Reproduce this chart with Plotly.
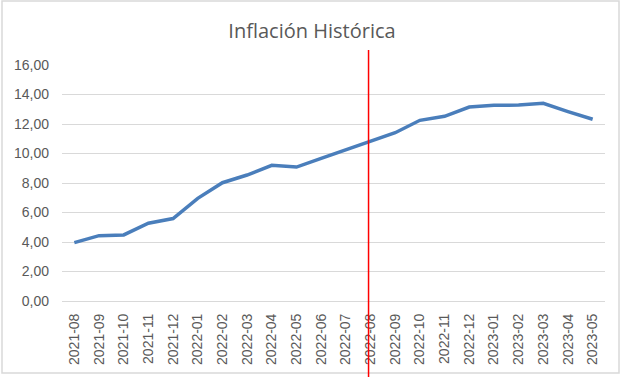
import plotly.graph_objects as go

months = ["2021-08", "2021-09", "2021-10", "2021-11", "2021-12", "2022-01", "2022-02",
          "2022-03", "2022-04", "2022-05", "2022-06", "2022-07", "2022-08", "2022-09",
          "2022-10", "2022-11", "2022-12", "2023-01", "2023-02", "2023-03", "2023-04",
          "2023-05"]
inflation = [3.96, 4.43, 4.48, 5.27, 5.59, 6.96, 8.02, 8.54, 9.20, 9.08, 9.67, 10.27,
             10.82, 11.41, 12.25, 12.52, 13.15, 13.27, 13.28, 13.40, 12.84, 12.32]
y_ticks = [0, 2, 4, 6, 8, 10, 12, 14, 16]
marker_month_index = 11.92

fig = go.Figure()
fig.add_trace(go.Scatter(x=list(range(len(months))), y=inflation, mode="lines",
                         line=dict(color="#4a7ebb", width=3.5), hoverinfo="x+y"))

fig.update_layout(
    width=625, height=377,
    margin=dict(l=62, r=20, t=65, b=76, autoexpand=False),
    paper_bgcolor="white", plot_bgcolor="white",
    separators=",.",
    showlegend=False,
    title=dict(text="Inflación Histórica", x=312 / 625, xref="container", xanchor="center",
               y=1 - 31 / 377, yref="container", yanchor="middle",
               font=dict(family="Open Sans", size=20, color="#595959")),
    font=dict(family="Liberation Sans, Arial", size=14, color="#595959"),
)
fig.update_xaxes(
    tickmode="array", tickvals=list(range(len(months))), ticktext=months,
    range=[-0.5, len(months) - 0.5], tickangle=-90, automargin=False,
    showgrid=False, showline=True, linecolor="#d9d9d9", linewidth=1,
    ticks="", ticklabelstandoff=6, zeroline=False,
)
fig.update_yaxes(
    range=[0, 16], tickvals=y_ticks, tickformat=".2f", automargin=False,
    showgrid=True, gridcolor="#d9d9d9", gridwidth=1,
    showline=False, zeroline=False, ticks="", ticklabelstandoff=12,
)
# red vertical marker line
fig.add_shape(type="line", xref="x", yref="paper", x0=marker_month_index, x1=marker_month_index,
              y0=(301 - 377) / 236, y1=(301 - 50) / 236,
              line=dict(color="#ff0000", width=1.5))
# chart border
fig.add_shape(type="rect", xref="paper", yref="paper",
              x0=(2 - 62) / 543, x1=(619 - 62) / 543,
              y0=(301 - 373) / 236, y1=(301 - 1) / 236,
              line=dict(color="#d9d9d9", width=1.5), fillcolor="rgba(0,0,0,0)", layer="below")

fig.write_html("out.html", config={"displayModeBar": False},
               post_script="document.body.style.margin='0';")
